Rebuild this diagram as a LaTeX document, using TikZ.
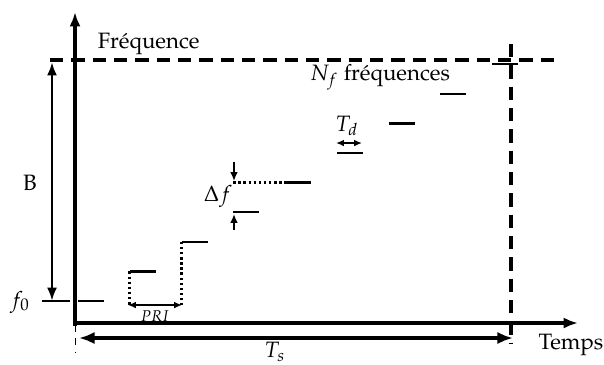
\documentclass[tikz,border=0pt]{standalone}
\usepackage[T1]{fontenc}
\usepackage{mathpazo}
\usepackage{tikz}
\usetikzlibrary{arrows.meta, positioning, calc}

\begin{document}
\begin{tikzpicture}[x=0.45pt, y=-0.45pt,
  axe/.style={line width=1.8pt, -{Latex[length=6.5pt, width=5pt]}},
  palier/.style={line width=1.1pt},
  tirets/.style={line width=1.4pt, dash pattern=on 6pt off 3.6pt},
  pointil/.style={line width=1.2pt, dash pattern=on 1.1pt off 1.2pt},
  cote/.style={line width=1.3pt, {Latex[length=6pt, width=4.5pt]}-{Latex[length=6pt, width=4.5pt]}},
  petit/.style={line width=1pt, {Latex[length=3.5pt, width=3pt]}-{Latex[length=3.5pt, width=3pt]}},
  fleche/.style={line width=1pt, -{Latex[length=4pt, width=3.5pt]}}]
  \useasboundingbox (0,0) rectangle (604,364);
  % axes
  \coordinate (o) at (75,323);
  \coordinate (haut) at (75,12);
  \coordinate (droite) at (578,323);
  \draw[axe] (75,326) -- (haut);
  \draw[axe] (73,323) -- (droite);
  \draw[line width=0.4pt, dashed] (75,325) -- (75,352);
  \node[anchor=west] (freq) at (90,44) {Fréquence};
  \node (temps) at (571,345) {Temps};
  % limites
  \coordinate (fa) at (50,60);
  \coordinate (fb) at (560,60);
  \coordinate (ta) at (511,44);
  \coordinate (tb) at (511,343);
  \draw[tirets] (fa) -- (fb);
  \draw[tirets] (ta) -- (tb);
  % paliers
  \foreach \i in {0,...,8}
    \coordinate (p\i) at ({78+51.75*\i},{301-29.6*\i});
  \foreach \i in {0,...,8}
    \draw[palier] (p\i) -- ++(26,0);
  % bande B
  \coordinate (ba) at (52,62);
  \coordinate (bb) at (52,301);
  \draw[cote] (bb) -- (ba);
  \draw[line width=0.5pt] (42,301) -- (70,301);
  \node (B) at (30,183) {B};
  \node (f0) at (20,302) {$f_0$};
  % PRI
  \coordinate (ra) at (128,305);
  \coordinate (rb) at (182,305);
  \draw[pointil] (p1) -- (p1 |- ra);
  \draw[pointil] (p2) -- (p2 |- rb);
  \draw[petit] (ra) -- (rb);
  \node[font=\scriptsize] (pri) at (155,316) {$PRI$};
  % delta f
  \draw[pointil] (p3 |- p4) -- (p4);
  \coordinate (da) at (234,162);
  \coordinate (db) at (234,230);
  \draw[fleche] (da) -- (234,181);
  \draw[fleche] (db) -- (234,214);
  \node (df) at (218,196) {$\Delta f$};
  % Td
  \coordinate (tda) at (336,143);
  \coordinate (tdb) at (362,143);
  \draw[petit] (tda) -- (tdb);
  \node (td) at (347,126) {$T_d$};
  \node (nf) at (380,77) {$N_f$ fréquences};
  % Ts
  \coordinate (sa) at (79,338);
  \coordinate (sb) at (513,338);
  \draw[cote, line width=1.4pt, {Latex[length=7pt, width=5.5pt]}-{Latex[length=7pt, width=5.5pt]}] (sa) -- (sb);
  \node (ts) at (275,352) {$T_s$};
\end{tikzpicture}
\end{document}
